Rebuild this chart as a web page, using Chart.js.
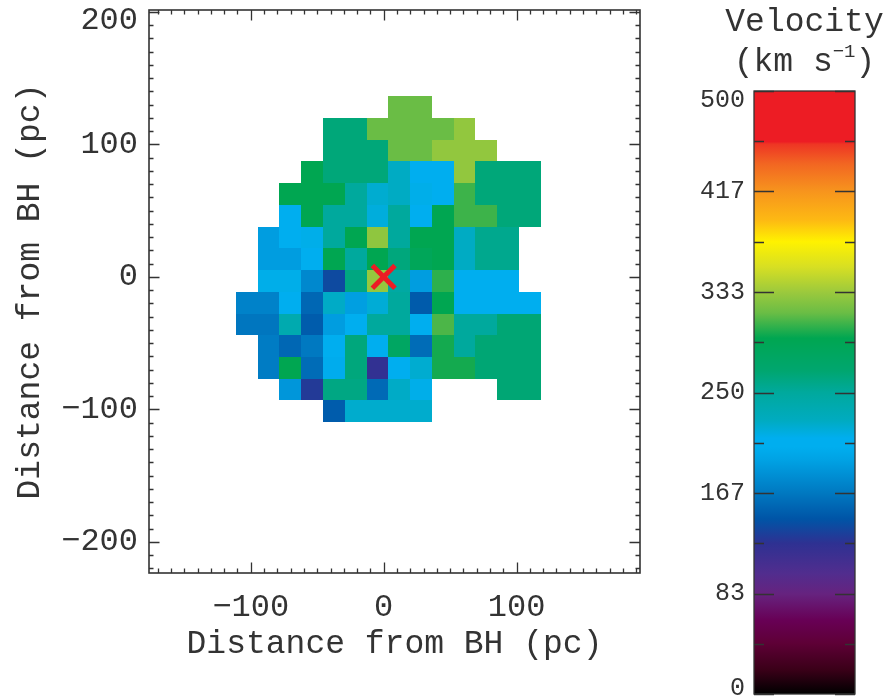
<!DOCTYPE html>
<html>
<head>
<meta charset="utf-8">
<script src="https://cdn.jsdelivr.net/npm/chart.js@4"></script>
<style>
html, body { margin: 0; padding: 0; background: #fff; }
#wrap { position: relative; width: 889px; height: 698px; overflow: hidden; }
#map { position: absolute; left: 0; top: 0; }
#cbar { position: absolute; left: 690px; top: 0; }
</style>
</head>
<body>
<div id="wrap">
  <canvas id="map" width="889" height="698"></canvas>
  <canvas id="cbar" width="199" height="698"></canvas>
</div>
<script>
// ---------------- data ----------------
// pixel-centre positions (pc from BH)
const xCenters = [-103.1, -86.7, -70.3, -53.9, -37.5, -21.1, -4.7, 11.7, 28.1, 44.5, 60.9, 77.3, 93.7, 110.1];
const yCenters = [128.1, 111.7, 95.3, 78.9, 62.5, 46.1, 29.7, 13.3, -3.1, -19.5, -35.9, -52.3, -68.7, -85.1, -101.5];
const cellSize = 16.4;
// velocity (km/s) per pixel, rows top->bottom, columns left->right; null = no data
const velocity = [
  [null, null, null, null, null, null, null, 316, 316, null, null, null, null, null],
  [null, null, null, null, 264, 264, 316, 316, 316, 316, 330, null, null, null],
  [null, null, null, null, 264, 264, 264, 316, 316, 330, 330, 330, null, null],
  [null, null, null, 295, 264, 264, 264, 226, 207, 207, 330, 264, 264, 264],
  [null, null, 295, 295, 295, 250, 222, 226, 214, 207, 307, 264, 264, 264],
  [null, null, 207, 295, 250, 250, 218, 250, 207, 295, 307, 307, 264, 264],
  [null, 191, 210, 214, 250, 295, 329, 250, 295, 295, 226, 256, 256, null],
  [null, 191, 191, 210, 295, 250, 295, 263, 288, 295, 226, 256, 256, null],
  [null, 214, 214, 177, 139, 261, 331, 246, 191, 304, 207, 207, 207, null],
  [173, 173, 207, 156, 225, 192, 220, 250, 149, 295, 207, 207, 207, 207],
  [165, 165, 238, 150, 191, 207, 250, 250, 207, 310, 250, 250, 266, 266],
  [null, 169, 156, 167, 207, 263, 212, 280, 159, 299, 250, 266, 266, 266],
  [null, 169, 295, 159, 203, 263, 122, 207, 222, 299, 299, 266, 266, 266],
  [null, null, 186, 130, 260, 260, 158, 225, 214, null, null, null, 266, 266],
  [null, null, null, null, 150, 223, 223, 223, 223, null, null, null, null, null]
];
const bhPosition = [{ x: 0, y: 0 }];

const xTickValues = [-100, 0, 100];
const yTickValues = [-200, -100, 0, 100, 200];
const minorStep = 10;
const majorStep = 100;

const cbarTickValues = [0, 83.33, 166.67, 250, 333.33, 416.67, 500];
const cbarTickLabels = ['0', '83', '167', '250', '333', '417', '500'];
const cbarMinorValues = [41.67, 125, 208.33, 291.67, 375, 458.33];

const cmapValues = [0, 20, 42, 61, 83, 100, 125, 145, 167, 194, 205, 212, 227, 250, 268, 295, 316, 333, 354, 375, 393, 417, 440, 456, 458, 500];
const cmapColors = ['#000000', '#3a0018', '#5e0036', '#680055', '#66237f', '#512d8e', '#2e3192', '#0054a6', '#0079c1', '#00a2e4', '#00aeef', '#00aeef', '#00abc0', '#00a99d', '#00a66f', '#00a651', '#6abd45', '#9bc93d', '#d7df23', '#fff200', '#fdb913', '#f7941d', '#f26522', '#ee3524', '#ed1c24', '#ed1c24'];

// ---------------- helpers ----------------
const FONT = "'Liberation Mono', 'DejaVu Sans Mono', monospace";
const INK = '#333';

function hexToRgb(h) {
  const n = parseInt(h.slice(1), 16);
  return [(n >> 16) & 255, (n >> 8) & 255, n & 255];
}
const cmapRgb = cmapColors.map(hexToRgb);
function cmap(v) {
  const lo = cmapValues[0], hi = cmapValues[cmapValues.length - 1];
  v = Math.max(lo, Math.min(hi, v));
  for (let i = 0; i < cmapValues.length - 1; i++) {
    const a = cmapValues[i], b = cmapValues[i + 1];
    if (v >= a && v <= b) {
      const t = b === a ? 0 : (v - a) / (b - a);
      const c = cmapRgb[i].map((ci, k) => Math.round(ci + (cmapRgb[i + 1][k] - ci) * t));
      return 'rgb(' + c.join(',') + ')';
    }
  }
  return cmapColors[cmapColors.length - 1];
}
function fmtTick(v) {
  return v < 0 ? '\u2212' + Math.abs(v) : String(v);
}
const yTopTick = yTickValues[yTickValues.length - 1];

const cells = [];
velocity.forEach((row, r) => row.forEach((v, c) => {
  if (v !== null) cells.push({ x: xCenters[c], y: yCenters[r], v: v });
}));

// ---------------- plugins ----------------
const heatmapPlugin = {
  id: 'heatmap',
  beforeDatasetsDraw(chart) {
    const { ctx, scales: { x, y } } = chart;
    const data = chart.data.datasets[0].data;
    ctx.save();
    data.forEach(p => {
      const l = Math.round(x.getPixelForValue(p.x - cellSize / 2));
      const r = Math.round(x.getPixelForValue(p.x + cellSize / 2));
      const t = Math.round(y.getPixelForValue(p.y + cellSize / 2));
      const b = Math.round(y.getPixelForValue(p.y - cellSize / 2));
      ctx.fillStyle = cmap(p.v);
      ctx.fillRect(l, t, r - l, b - t);
    });
    ctx.restore();
  }
};

const framePlugin = {
  id: 'frame',
  afterDraw(chart) {
    const { ctx, chartArea: a, scales: { x, y } } = chart;
    ctx.save();
    ctx.strokeStyle = INK;
    ctx.lineWidth = 1.6;
    ctx.strokeRect(a.left, a.top, a.right - a.left, a.bottom - a.top);
    ctx.lineWidth = 1.3;
    ctx.beginPath();
    for (let v = Math.ceil(x.min / minorStep) * minorStep; v <= x.max; v += minorStep) {
      const px = Math.round(x.getPixelForValue(v)) + 0.5;
      const len = (v % majorStep === 0) ? 10.5 : 4.5;
      ctx.moveTo(px, a.bottom); ctx.lineTo(px, a.bottom - len);
      ctx.moveTo(px, a.top); ctx.lineTo(px, a.top + len);
    }
    for (let v = Math.ceil(y.min / minorStep) * minorStep; v <= y.max; v += minorStep) {
      const py = Math.round(y.getPixelForValue(v)) + 0.5;
      const len = (v % majorStep === 0) ? 10.5 : 4.5;
      ctx.moveTo(a.left, py); ctx.lineTo(a.left + len, py);
      ctx.moveTo(a.right, py); ctx.lineTo(a.right - len, py);
    }
    ctx.stroke();
    ctx.restore();
  }
};

// ---------------- main map ----------------
new Chart(document.getElementById('map'), {
  type: 'scatter',
  data: {
    datasets: [
      { label: 'cells', data: cells, pointRadius: 0, pointHoverRadius: 0, showLine: false },
      { label: 'BH', data: bhPosition, pointStyle: 'crossRot', pointRadius: 16, pointHoverRadius: 16,
        borderColor: '#ed1c24', backgroundColor: '#ed1c24', pointBorderWidth: 5, borderWidth: 5 }
    ]
  },
  options: {
    responsive: false,
    animation: false,
    events: [],
    layout: { autoPadding: false, padding: { top: 10, right: 249, bottom: 0, left: 0 } },
    plugins: { legend: { display: false }, tooltip: { enabled: false } },
    scales: {
      x: {
        type: 'linear', min: -176.6, max: 192.9,
        afterBuildTicks: s => { s.ticks = xTickValues.map(v => ({ value: v })); },
        afterFit: s => { s.height = 125; s.paddingLeft = 0; s.paddingRight = 0; },
        grid: { display: false, drawTicks: false },
        border: { display: false },
        ticks: { font: { family: FONT, size: 32 }, color: INK, padding: 15, maxRotation: 0, autoSkip: false, callback: v => fmtTick(v) },
        title: { display: true, text: 'Distance from BH (pc)', font: { family: FONT, size: 33 }, color: INK, padding: { top: 0, bottom: 34 } }
      },
      y: {
        type: 'linear', min: -223.5, max: 201.4,
        afterBuildTicks: s => { s.ticks = yTickValues.map(v => ({ value: v })); },
        afterFit: s => { s.width = 149; s.paddingTop = 0; s.paddingBottom = 0; },
        grid: { display: false, drawTicks: false },
        border: { display: false },
        ticks: {
          font: (c) => ({ family: FONT, size: 32, lineHeight: (c.tick && c.tick.value === yTopTick) ? 0.55 : 1.2 }),
          color: INK, padding: 11, autoSkip: false,
          callback: v => (v === yTopTick ? ['', fmtTick(v)] : fmtTick(v))
        },
        title: { display: true, text: 'Distance from BH (pc)', font: { family: FONT, size: 33 }, color: INK, padding: { top: 10, bottom: 0 } }
      }
    }
  },
  plugins: [heatmapPlugin, framePlugin]
});

// ---------------- colour bar ----------------
const cbarPlugin = {
  id: 'cbarDecor',
  afterDraw(chart) {
    const { ctx, chartArea: a, scales: { y } } = chart;
    ctx.save();
    ctx.strokeStyle = INK;
    ctx.lineWidth = 1.3;
    ctx.strokeRect(a.left, a.top, a.right - a.left, a.bottom - a.top);
    ctx.beginPath();
    cbarTickValues.forEach(v => {
      const py = Math.round(y.getPixelForValue(v)) + 0.5;
      ctx.moveTo(a.left, py); ctx.lineTo(a.left + 20, py);
      ctx.moveTo(a.right, py); ctx.lineTo(a.right - 20, py);
    });
    cbarMinorValues.forEach(v => {
      const py = Math.round(y.getPixelForValue(v)) + 0.5;
      ctx.moveTo(a.left, py); ctx.lineTo(a.left + 10, py);
      ctx.moveTo(a.right, py); ctx.lineTo(a.right - 10, py);
    });
    ctx.stroke();
    // tick labels
    ctx.fillStyle = INK;
    ctx.font = '25px ' + FONT;
    ctx.textAlign = 'right';
    ctx.textBaseline = 'middle';
    cbarTickValues.forEach((v, i) => {
      let py = y.getPixelForValue(v);
      py = Math.max(a.top + 9, Math.min(a.bottom - 6, py));
      ctx.fillText(cbarTickLabels[i], a.left - 9, py);
    });
    // title
    const cx = (a.left + a.right) / 2;
    ctx.textAlign = 'center';
    ctx.textBaseline = 'alphabetic';
    ctx.font = '33px ' + FONT;
    ctx.fillText('Velocity', cx, 31);
    const p1 = '(km s', p2 = '\u22121', p3 = ')';
    const w1 = ctx.measureText(p1).width, w3 = ctx.measureText(p3).width;
    ctx.font = '19px ' + FONT;
    const w2 = ctx.measureText(p2).width;
    let sx = cx - (w1 + w2 + w3) / 2;
    ctx.textAlign = 'left';
    ctx.font = '33px ' + FONT;
    ctx.fillText(p1, sx, 71);
    ctx.font = '19px ' + FONT;
    ctx.fillText(p2, sx + w1, 57);
    ctx.font = '33px ' + FONT;
    ctx.fillText(p3, sx + w1 + w2, 71);
    ctx.restore();
  }
};

new Chart(document.getElementById('cbar'), {
  type: 'bar',
  data: {
    labels: ['Velocity'],
    datasets: [{
      data: [[cbarTickValues[0], cbarTickValues[cbarTickValues.length - 1]]],
      borderWidth: 0,
      barPercentage: 1,
      categoryPercentage: 1,
      backgroundColor: (c) => {
        const chart = c.chart;
        if (!chart.chartArea) return '#888';
        const y = chart.scales.y;
        const lo = cmapValues[0], hi = cmapValues[cmapValues.length - 1];
        const g = chart.ctx.createLinearGradient(0, y.getPixelForValue(lo), 0, y.getPixelForValue(hi));
        cmapValues.forEach((v, i) => g.addColorStop((v - lo) / (hi - lo), cmapColors[i]));
        return g;
      }
    }]
  },
  options: {
    responsive: false,
    animation: false,
    events: [],
    layout: { autoPadding: false, padding: { top: 91, right: 34, bottom: 4, left: 0 } },
    plugins: { legend: { display: false }, tooltip: { enabled: false } },
    scales: {
      x: { display: false },
      y: {
        min: 0, max: 500,
        afterBuildTicks: s => { s.ticks = cbarTickValues.map(v => ({ value: v })); },
        afterFit: s => { s.width = 64; s.paddingTop = 0; s.paddingBottom = 0; },
        ticks: { display: false },
        grid: { display: false, drawTicks: false },
        border: { display: false }
      }
    }
  },
  plugins: [cbarPlugin]
});
</script>
</body>
</html>
